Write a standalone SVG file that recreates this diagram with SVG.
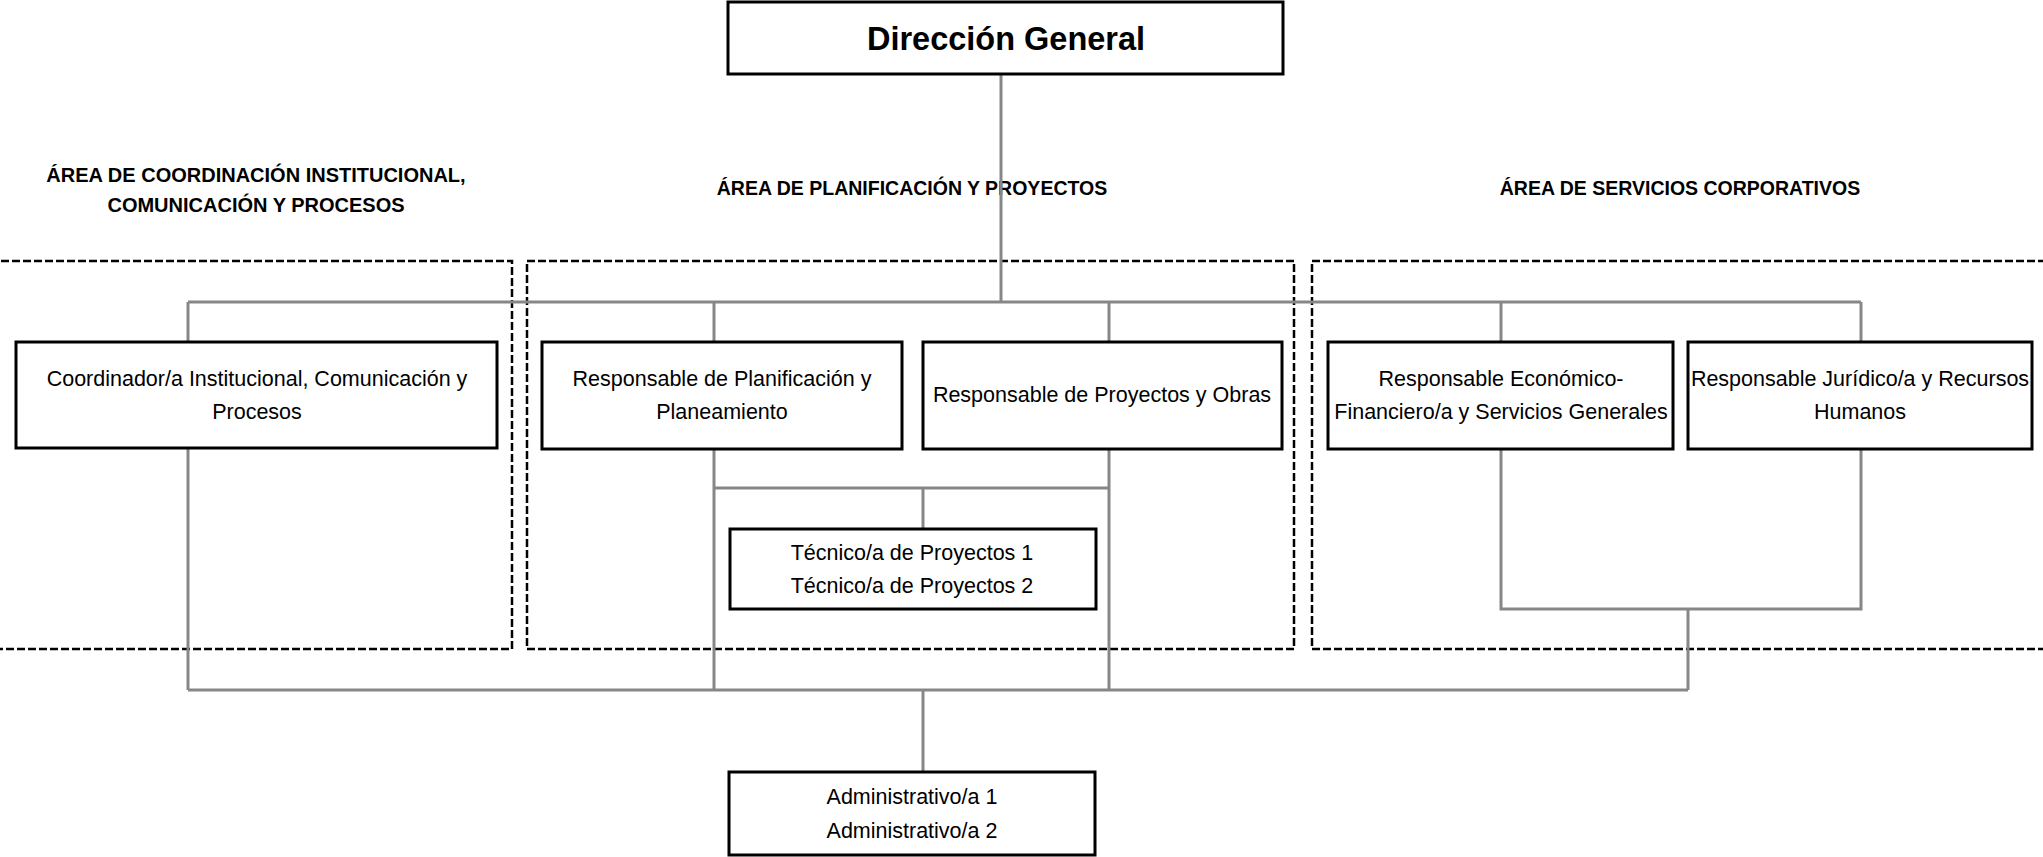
<svg xmlns="http://www.w3.org/2000/svg" width="2043" height="857" viewBox="0 0 2043 857">
<style>
.area{fill:none;stroke:#000;stroke-width:2.5;stroke-dasharray:8 3}
.box{fill:#fff;stroke:#000;stroke-width:3}
.con{fill:none;stroke:#878787;stroke-width:3}
.t{font-family:"Liberation Sans",Arial,sans-serif;font-size:21.5px;fill:#000;text-anchor:middle}
.h{font-family:"Liberation Sans",Arial,sans-serif;font-size:19.5px;font-weight:bold;fill:#000;text-anchor:middle}
.h2{font-size:20px}
.title{font-family:"Liberation Sans",Arial,sans-serif;font-size:32.5px;font-weight:bold;fill:#000;text-anchor:middle}
</style>
<rect width="2043" height="857" fill="#fff"/>
<g id="areas">
  <rect class="area" x="-10" y="261" width="522" height="388"/>
  <rect class="area" x="527" y="261" width="767" height="388"/>
  <rect class="area" x="1312" y="261" width="745" height="388"/>
  <text class="h h2" x="256" y="182">ÁREA DE COORDINACIÓN INSTITUCIONAL,</text>
  <text class="h h2" x="256" y="212">COMUNICACIÓN Y PROCESOS</text>
  <text class="h" x="912" y="195">ÁREA DE PLANIFICACIÓN Y PROYECTOS</text>
  <text class="h" x="1680" y="195">ÁREA DE SERVICIOS CORPORATIVOS</text>
</g>
<g id="connectors">
  <path class="con" d="M1001 74V302"/>
  <path class="con" d="M188 302H1861"/>
  <path class="con" d="M188 302V342M714 302V342M1109 302V342M1501 302V342M1861 302V342"/>
  <path class="con" d="M188 448V690M714 449V690M1109 449V690"/>
  <path class="con" d="M714 488H1109M923 488V529"/>
  <path class="con" d="M1501 449V609H1861V449M1688 609V690"/>
  <path class="con" d="M188 690H1688"/>
  <path class="con" d="M923 690V772"/>
</g>
<g id="direccion">
  <rect class="box" x="728" y="2" width="555" height="72"/>
  <text class="title" x="1006" y="50">Dirección General</text>
</g>
<g id="coordinador">
  <rect class="box" x="16" y="342" width="481" height="106"/>
  <text class="t" x="257" y="386">Coordinador/a Institucional, Comunicación y</text>
  <text class="t" x="257" y="419">Procesos</text>
</g>
<g id="planificacion">
  <rect class="box" x="542" y="342" width="360" height="107"/>
  <text class="t" x="722" y="386">Responsable de Planificación y</text>
  <text class="t" x="722" y="419">Planeamiento</text>
</g>
<g id="proyectos">
  <rect class="box" x="923" y="342" width="359" height="107"/>
  <text class="t" x="1102" y="402">Responsable de Proyectos y Obras</text>
</g>
<g id="economico">
  <rect class="box" x="1328" y="342" width="345" height="107"/>
  <text class="t" x="1501" y="386">Responsable Económico-</text>
  <text class="t" x="1501" y="419">Financiero/a y Servicios Generales</text>
</g>
<g id="juridico">
  <rect class="box" x="1688" y="342" width="344" height="107"/>
  <text class="t" x="1860" y="386">Responsable Jurídico/a y Recursos</text>
  <text class="t" x="1860" y="419">Humanos</text>
</g>
<g id="tecnicos">
  <rect class="box" x="730" y="529" width="366" height="80"/>
  <text class="t" x="912" y="560">Técnico/a de Proyectos 1</text>
  <text class="t" x="912" y="593">Técnico/a de Proyectos 2</text>
</g>
<g id="administrativos">
  <rect class="box" x="729" y="772" width="366" height="83"/>
  <text class="t" x="912" y="804">Administrativo/a 1</text>
  <text class="t" x="912" y="838">Administrativo/a 2</text>
</g>
</svg>
